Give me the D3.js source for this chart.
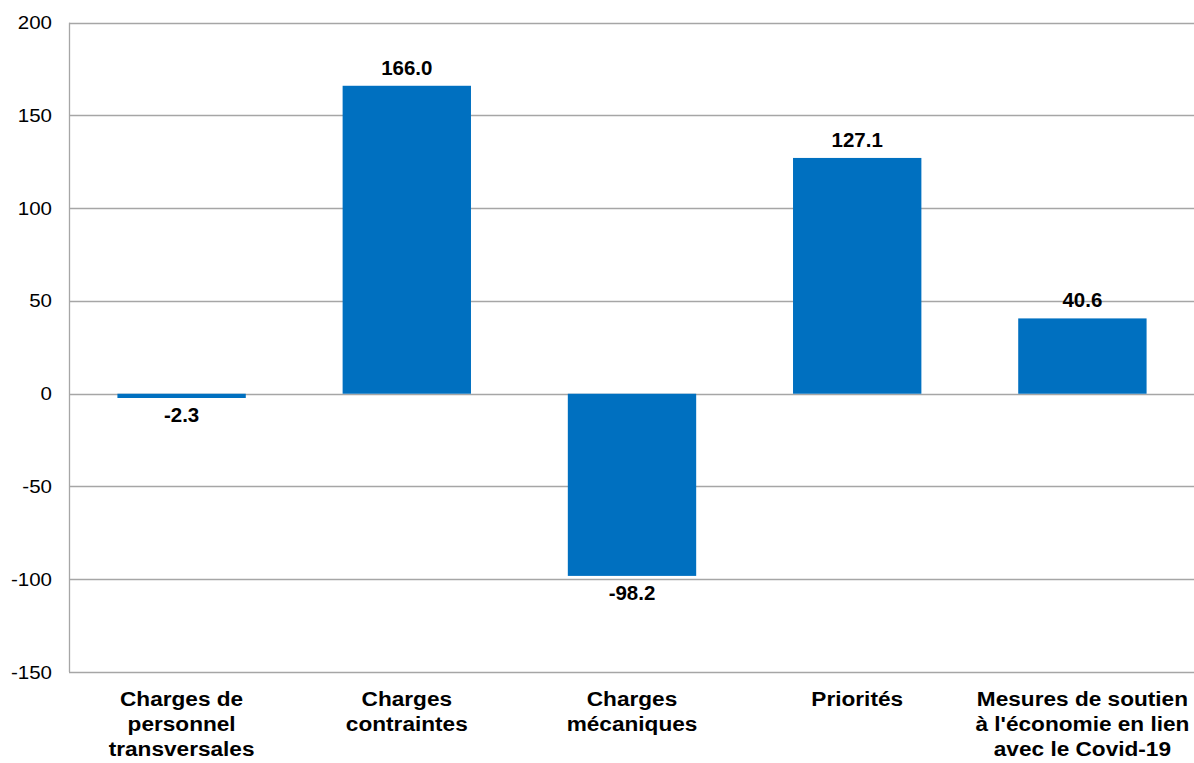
<!DOCTYPE html>
<html><head><meta charset="utf-8">
<script src="https://cdn.jsdelivr.net/npm/d3@7"></script>
<style>body{margin:0;background:#fff}svg{display:block}text{font-family:"Liberation Sans",Arial,sans-serif}</style>
</head><body>
<svg id="c" width="1194" height="763"></svg>
<script>
const categories = [
  ["Charges de","personnel","transversales"],
  ["Charges","contraintes"],
  ["Charges","mécaniques"],
  ["Priorités"],
  ["Mesures de soutien","à l'économie en lien","avec le Covid-19"]
];
const values = [-2.3, 166.0, -98.2, 127.1, 40.6];
const yTicks = [-150, -100, -50, 0, 50, 100, 150, 200];

const svg = d3.select("#c");
const mLeft = 69, mRight = 1195, mTop = 22.7, mBottom = 672;
const x = d3.scaleBand().domain(d3.range(values.length)).range([mLeft, mRight]).paddingInner(0.43).paddingOuter(0.215);
const y = d3.scaleLinear().domain([-150, 200]).range([mBottom, mTop]);

// gridlines
svg.append("g").selectAll("line").data(yTicks).join("line")
  .attr("x1", mLeft).attr("x2", 1194)
  .attr("y1", d => Math.round(y(d)) + 0.5).attr("y2", d => Math.round(y(d)) + 0.5)
  .attr("stroke", "#a6a6a6").attr("stroke-width", 1.3);

// y axis line
svg.append("line").attr("x1", mLeft + 0.5).attr("x2", mLeft + 0.5)
  .attr("y1", y(200)).attr("y2", y(-150)).attr("stroke", "#a6a6a6").attr("stroke-width", 1.3);

// y tick labels
svg.append("g").selectAll("text").data(yTicks).join("text")
  .attr("transform", d => `translate(52,${y(d) + 6.5}) scale(1.14,1)`)
  .attr("text-anchor", "end").attr("font-size", 18).attr("fill", "#000")
  .text(d => String(d));

// bars
svg.append("g").selectAll("rect").data(values).join("rect")
  .attr("x", (d, i) => x(i)).attr("width", x.bandwidth())
  .attr("y", d => y(Math.max(0, d))).attr("height", d => Math.abs(y(d) - y(0)))
  .attr("fill", "#0070c0");

// value labels
svg.append("g").selectAll("text").data(values).join("text")
  .attr("transform", (d, i) => `translate(${x(i) + x.bandwidth() / 2},${d >= 0 ? y(d) - 11 : y(d) + 24.5}) scale(1.05,1)`)
  .attr("text-anchor", "middle").attr("font-size", 19.5).attr("font-weight", "bold")
  .text(d => d.toFixed(1));

// category labels
const cg = svg.append("g").selectAll("text").data(categories).join("text")
  .attr("transform", (d, i) => `translate(${x(i) + x.bandwidth() / 2},706) scale(1.16,1)`)
  .attr("text-anchor", "middle").attr("font-size", 19.5).attr("font-weight", "bold");
cg.selectAll("tspan").data(d => d).join("tspan")
  .attr("x", 0)
  .attr("dy", (d, j) => j === 0 ? 0 : 25)
  .text(d => d);
</script>
</body></html>
